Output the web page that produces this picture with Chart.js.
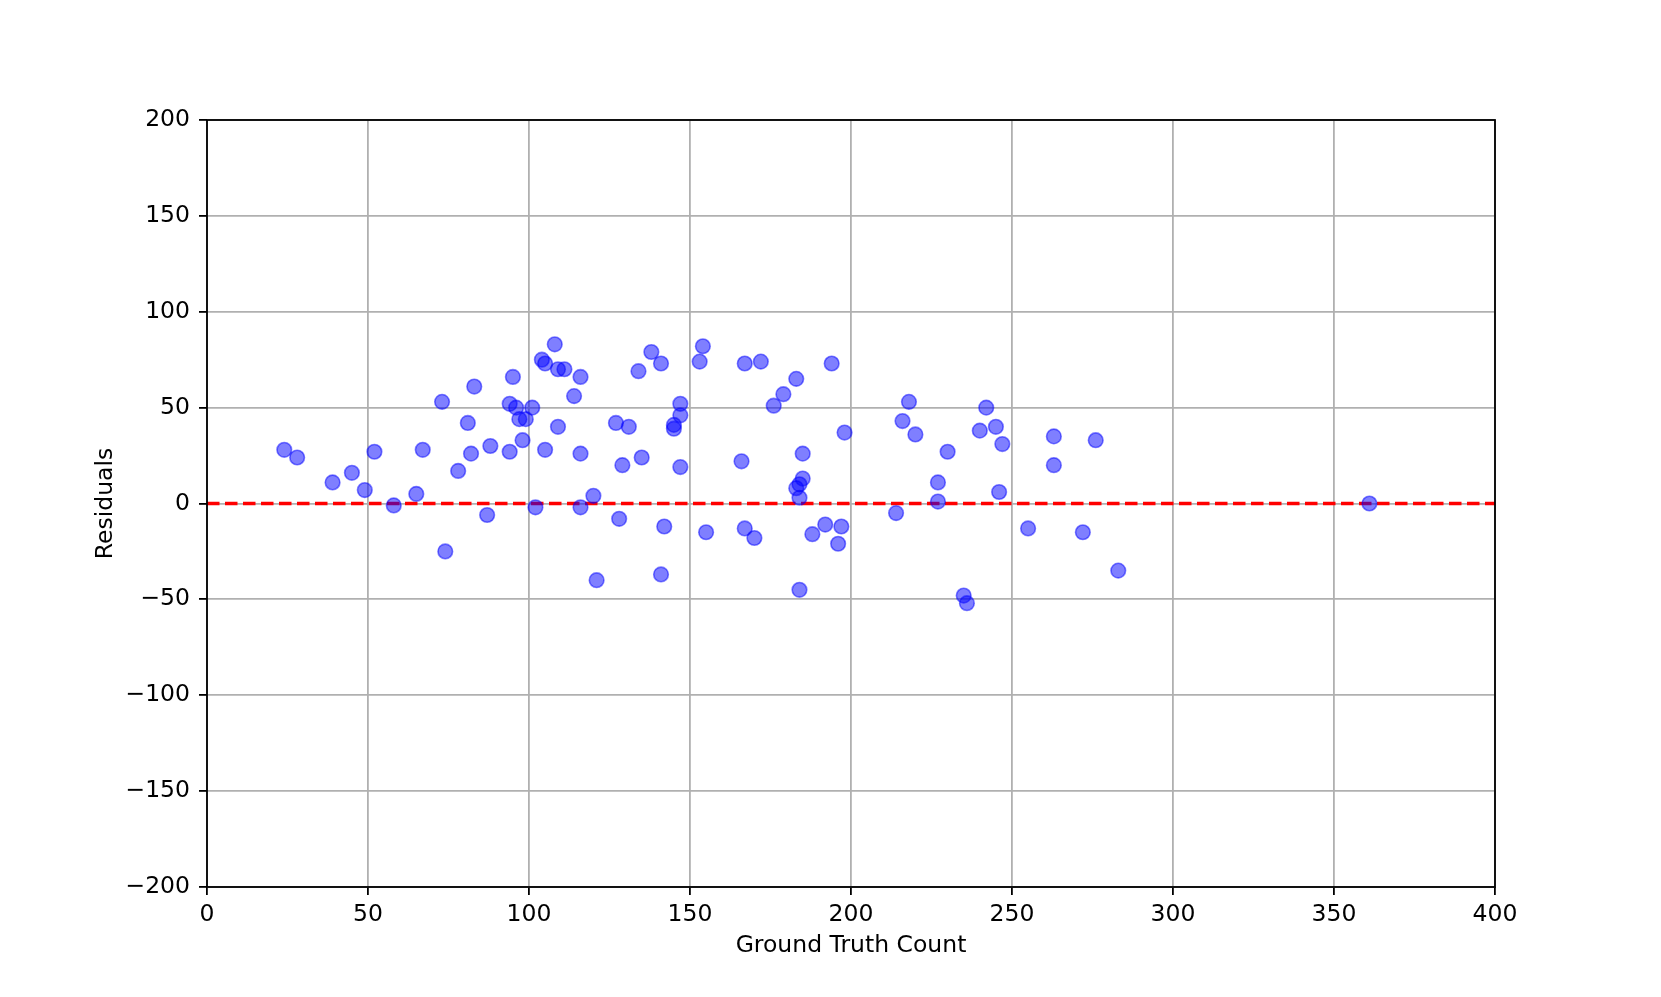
<!DOCTYPE html>
<html>
<head>
<meta charset="utf-8">
<script src="https://cdn.jsdelivr.net/npm/chart.js@4.4.1/dist/chart.umd.min.js"></script>
<style>
  html, body { margin:0; padding:0; background:#fff; }
  #wrap { width:1661px; height:997px; }
</style>
</head>
<body>
<div id="wrap"><canvas id="chResid" width="1661" height="997"></canvas></div>
<script>
// ground truth count (x) and residual (y)
const truthCount = [24,28,39,45,49,52,58,65,67,73,74,78,81,82,83,87,88,94,94,95,96,97,98,99,101,102,
  104,105,105,108,109,109,111,114,116,116,116,120,121,127,128,129,131,134,135,138,141,141,142,
  145,145,147,147,147,153,154,155,166,167,167,170,172,176,179,183,183,184,185,184,185,184,188,
  192,194,196,197,198,214,216,218,220,227,227,230,235,236,240,242,245,246,247,255,263,263,272,
  276,283,361];
const residuals = [28,24,11,16,7,27,-1,5,28,53,-25,17,42,26,61,-6,30,52,27,66,50,44,33,44,50,-2,
  75,73,28,83,70,40,70,56,66,26,-2,4,-40,42,-8,20,40,69,24,79,73,-37,-12,
  41,39,52,46,19,74,82,-15,22,73,-13,-18,74,51,57,65,8,10,13,3,26,-45,-16,
  -11,73,-21,-12,37,-5,43,53,36,11,1,27,-48,-52,38,50,40,6,31,-13,35,20,-15,
  33,-35,0];

// reference line y = 0
const zeroLineX = [0, 400];
const zeroLineY = [0, 0];

const xTicks = [0,50,100,150,200,250,300,350,400];
const yTicks = [-200,-150,-100,-50,0,50,100,150,200];

const FONT = { family:'DejaVu Sans', size:23.5 };

const frame = {
  id:'frame',
  afterDatasetsDraw(chart){
    const {ctx, chartArea:a} = chart;
    ctx.save();
    ctx.strokeStyle = '#000';
    ctx.lineWidth = 1.8;
    ctx.strokeRect(a.left, a.top, a.right-a.left, a.bottom-a.top);
    ctx.restore();
  }
};

new Chart(document.getElementById('chResid'), {
  type:'scatter',
  data:{
    datasets:[
      { label:'zero', type:'line', data: zeroLineX.map((x,i)=>({x, y:zeroLineY[i]})),
        borderColor:'#ff0000', borderWidth:3.4, borderDash:[12.5,5.5], pointRadius:0, order:2 },
      { label:'residuals', data: truthCount.map((x,i)=>({x, y:residuals[i]})),
        backgroundColor:'rgba(0,0,255,0.5)', borderColor:'rgba(0,0,255,0.5)', borderWidth:1.6,
        pointRadius:7.3, pointHoverRadius:7.3, order:1 }
    ]
  },
  options:{
    responsive:false, animation:false,
    layout:{ padding:{ top:120, right:166, left:0, bottom:0 } },
    plugins:{ legend:{ display:false }, tooltip:{ enabled:false } },
    scales:{
      x:{
        type:'linear', min:0, max:400,
        afterBuildTicks: s => { s.ticks = xTicks.map(v=>({value:v})); },
        afterFit: s => { s.height = 110; },
        grid:{ color:'#b0b0b0', lineWidth:1.8, tickColor:'#000', tickLength:8 },
        border:{ display:false },
        ticks:{ color:'#000', font:FONT, padding:6, maxRotation:0 },
        title:{ display:true, text:'Ground Truth Count', color:'#000', font:FONT, padding:{ top:0, bottom:37 } }
      },
      y:{
        type:'linear', min:-200, max:200,
        afterBuildTicks: s => { s.ticks = yTicks.map(v=>({value:v})); },
        afterFit: s => { s.width = 207; },
        grid:{ color:'#b0b0b0', lineWidth:1.8, tickColor:'#000', tickLength:8 },
        border:{ display:false },
        ticks:{ color:'#000', font:FONT, padding:9, callback: v => String(v).replace('-', '\u2212') },
        title:{ display:true, text:'Residuals', color:'#000', font:FONT, padding:{ top:92, bottom:0 } }
      }
    }
  },
  plugins:[frame]
});
</script>
</body>
</html>
